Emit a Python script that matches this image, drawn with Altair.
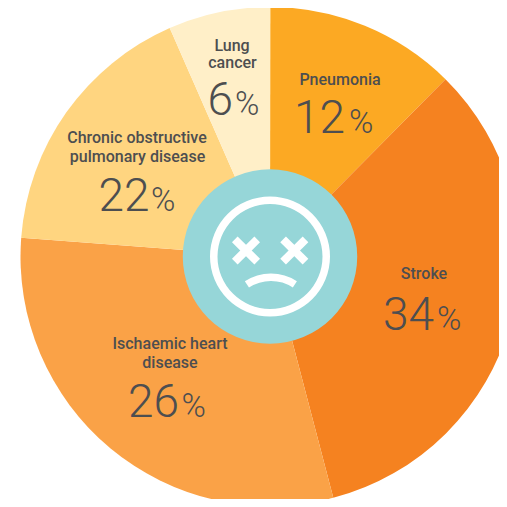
import altair as alt
import pandas as pd

causes = ["Pneumonia", "Stroke", "Ischaemic heart disease", "Chronic obstructive pulmonary disease", "Lung cancer"]
drawn_degrees = [44.7, 120.6, 109.0, 62.0, 23.8]
colours = ["#FCA923", "#F58220", "#FAA247", "#FFD580", "#FFEFC8"]
FONT = "Roboto"
INK = "#4D4E50"

# offset from page to chart origin
OX, OY = 8, 8
CX, CY = 270 - OX, 256.5 - OY

slices = pd.DataFrame({"cause": causes, "deg": drawn_degrees})
pie = alt.Chart(slices).mark_arc(outerRadius=249.5, innerRadius=0, x=CX, y=CY).encode(
    theta=alt.Theta("deg:Q", stack=True, scale=alt.Scale(domain=[0, 360], range=[0, 6.28319])),
    order=alt.Order("order:Q"),
    color=alt.Color("cause:N", scale=alt.Scale(domain=causes, range=colours), legend=None),
).transform_calculate(order="indexof(%s, datum.cause)" % str(causes))

one = pd.DataFrame({"a": [1]})


def arc(inner, outer, colour, cx=CX, cy=CY, t0=0.0, t1=6.28319):
    return alt.Chart(one).mark_arc(
        innerRadius=inner, outerRadius=outer, color=colour, x=cx, y=cy, theta=t0, theta2=t1
    ).encode(opacity=alt.value(1))


def text(s, x, y, size, align="center", weight=400):
    return alt.Chart(one).mark_text(
        text=s, x=x - OX, y=y - OY, fontSize=size, align=align, baseline="alphabetic",
        font=FONT, fontWeight=weight, color=INK,
    ).encode(opacity=alt.value(1))


def label(lines, num, right, pct_left, base):
    out = [text(s, x, y, 16, weight=500) for s, x, y in lines]
    out.append(text(num, right, base, 46, "right", 300))
    out.append(text("%", pct_left, base, 33, "left", 300))
    return out


def cross(x, y):
    a = 11.2
    return [
        alt.Chart(one).mark_rule(color="white", strokeWidth=8).encode(
            x=alt.value(x - OX - a), x2=alt.value(x - OX + a),
            y=alt.value(y - OY - sy * a), y2=alt.value(y - OY + sy * a),
        )
        for sy in (1, -1)
    ]


layers = [pie, arc(0, 87.2, "#96D6D8"), arc(52.5, 60, "white")]
layers += cross(246, 250.5) + cross(294.3, 250.5)
layers.append(arc(40, 47.5, "white", 271 - OX, 321 - OY, 5.70, 6.86))
layers += label([("Pneumonia", 340, 85)], "12", 345, 349, 133)
layers += label([("Lung", 232, 50.5), ("cancer", 232.5, 68)], "6", 233, 235, 115)
layers += label([("Chronic obstructive", 137, 143), ("pulmonary disease", 137.5, 162)], "22", 149.5, 151, 210.5)
layers += label([("Stroke", 424, 279)], "34", 434, 437, 330)
layers += label([("Ischaemic heart", 170, 349), ("disease", 170, 368)], "26", 179, 181.5, 416.5)

chart = alt.layer(*layers).properties(
    width=491, height=491, padding=0,
    autosize=alt.AutoSizeParams(type="none"),
    background="white",
).configure_view(stroke=None)

chart.save("out.html", embed_options={"renderer": "svg", "actions": False})
